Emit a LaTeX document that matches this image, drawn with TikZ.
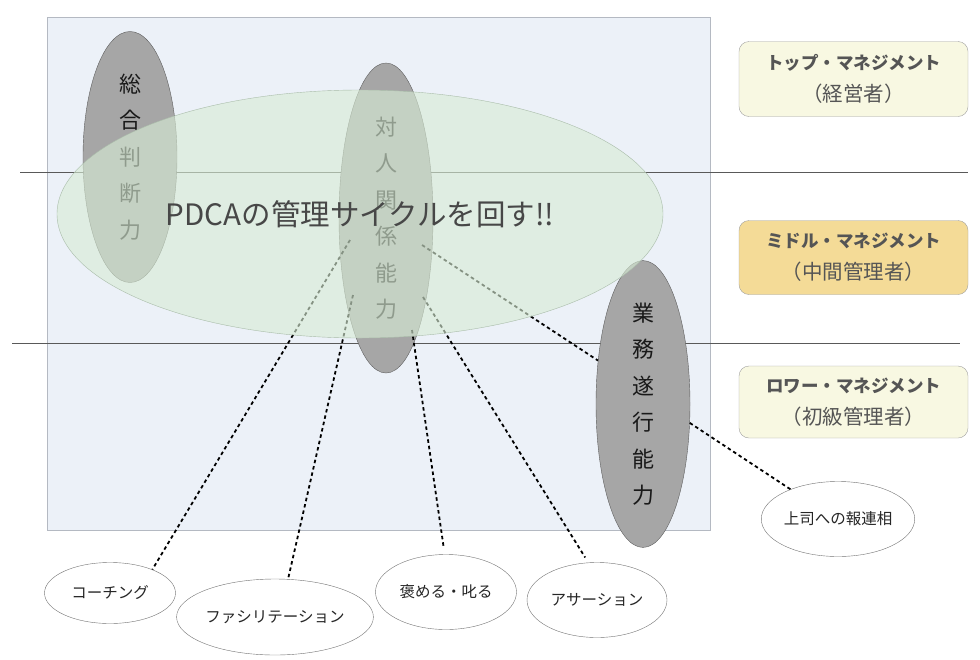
\documentclass[tikz,border=0pt]{standalone}
\usepackage{fontspec}
\setmainfont{Noto Sans CJK JP}
\usetikzlibrary{shapes.geometric}
\definecolor{bgpanel}{HTML}{ECF1F8}
\definecolor{panelline}{HTML}{B4B9C2}
\definecolor{skillgray}{HTML}{A6A6A6}
\definecolor{skillline}{HTML}{5E5E5E}
\definecolor{pdcagreen}{RGB}{216,236,213}
\definecolor{pdcaline}{HTML}{A9BCA9}
\definecolor{levelpale}{HTML}{F8F8E2}
\definecolor{levelgold}{HTML}{F4DB97}
\definecolor{levelline}{HTML}{A0A0A0}
\definecolor{leveltext}{HTML}{555555}

\begin{document}
\begin{tikzpicture}[x=1pt,y=-1pt]
\tikzstyle{skill}=[ellipse, draw=skillline, fill=skillgray, inner sep=0pt, minimum width=94pt, align=center, text=black!90, font=\fontsize{22}{36.5}\selectfont]
\tikzstyle{level}=[rectangle, rounded corners=10pt, draw=levelline, minimum width=229pt, minimum height=74pt, align=center, text=leveltext, font=\fontsize{20.5}{32}\selectfont]
\tikzstyle{method}=[ellipse, draw=black!55, fill=white, inner sep=0pt, text=black!85, font=\fontsize{15.5}{18}\selectfont]
\tikzstyle{link}=[line width=1.8pt, dash pattern=on 3.5pt off 3pt]
\useasboundingbox (0,0) rectangle (980,659);
% panel and level separators
\draw[fill=bgpanel, draw=panelline] (47,17) rectangle (710,530);
\draw[black!65] (20,172) -- (968,172);
\draw[black!65] (12,343) -- (960,343);
% skills
\draw (130,157) node (sougou) [skill, minimum height=251pt] {総\\合\\判\\断\\力};
\draw (386,218) node (taijin) [skill, minimum height=310pt] {対\\人\\関\\係\\能\\力};
\draw (643,404) node (gyomu) [skill, minimum height=252pt] {業\\務\\遂\\行\\能\\力};
% methods
\draw (110,593) node (coach) [method, minimum width=131pt, minimum height=61pt] {コーチング};
\draw (275,617) node (facil) [method, minimum width=183pt, minimum height=76pt] {ファシリテーション};
\draw (446,592) node (homeru) [method, minimum width=141pt, minimum height=75pt] {褒める・叱る};
\draw (597,600) node (assert) [method, minimum width=140pt, minimum height=75pt] {アサーション};
\draw (838,519) node (joushi) [method, minimum width=140pt, minimum height=75pt] {上司への報連相};
% links
\coordinate (t1) at (350,240);
\coordinate (t2) at (353,295);
\coordinate (t3) at (412,330);
\coordinate (t4) at (423,297);
\coordinate (t5) at (422,245);
\draw[link] (t1) -- (coach.29);
\draw[link] (t2) -- (facil.71);
\draw[link, shorten >=7pt] (t3) -- (homeru.92);
\draw[link, shorten >=6pt] (t4) -- (assert.103);
\draw[link] (t5) -- (gyomu.136);
\draw[link] (gyomu.-22) -- (joushi.148);
% PDCA cycle
\draw (360,214) node (pdca) [ellipse, inner sep=0pt, minimum width=606pt, minimum height=248pt, fill=pdcagreen, draw=pdcaline, fill opacity=0.62, text opacity=1, text=black!72, font=\fontsize{29.5}{32}\selectfont] {PDCAの管理サイクルを回す!!};
% levels
\draw (853.5,79) node (top) [level, fill=levelpale, minimum height=75pt] {{\bfseries\fontsize{17.5}{32}\selectfont トップ・マネジメント}\\（経営者）};
\draw (853.5,257.5) node (middle) [level, fill=levelgold] {{\bfseries\fontsize{17.5}{32}\selectfont ミドル・マネジメント}\\（中間管理者）};
\draw (853.5,402) node (lower) [level, fill=levelpale, minimum height=72pt] {{\bfseries\fontsize{17.5}{32}\selectfont ロワー・マネジメント}\\（初級管理者）};
\end{tikzpicture}
\end{document}
